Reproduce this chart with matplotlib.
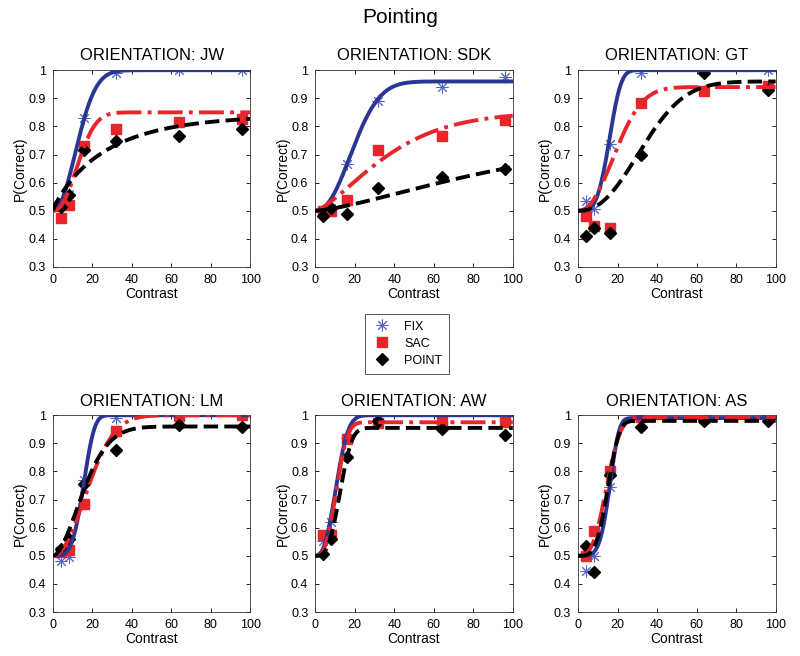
import numpy as np
import matplotlib.pyplot as plt
from matplotlib.lines import Line2D
from matplotlib.ticker import FormatStrFormatter

plt.rcParams['font.family'] = ['Liberation Sans', 'DejaVu Sans']

subjects = ['JW', 'SDK', 'GT', 'LM', 'AW', 'AS']
conditions = ['FIX', 'SAC', 'POINT']

# contrast levels tested
contrast = [4, 8, 16, 32, 64, 96]

fix_data = {
    'JW':  [0.52, 0.56, 0.83, 0.99, 1.00, 1.00],
    'SDK': [0.50, 0.51, 0.665, 0.89, 0.94, 0.975],
    'GT':  [0.535, 0.505, 0.737, 0.99, 1.00, 1.00],
    'LM':  [0.483, 0.495, 0.771, 0.99, 1.00, 1.00],
    'AW':  [0.553, 0.62, 0.92, 1.00, 1.00, 1.00],
    'AS':  [0.445, 0.50, 0.746, 0.99, 1.00, 1.00],
}
sac_data = {
    'JW':  [0.475, 0.52, 0.73, 0.792, 0.815, 0.827],
    'SDK': [0.50, 0.50, 0.54, 0.717, 0.765, 0.824],
    'GT':  [0.48, 0.445, 0.44, 0.885, 0.925, 0.945],
    'LM':  [0.512, 0.521, 0.683, 0.944, 0.996, 1.00],
    'AW':  [0.574, 0.574, 0.917, 0.973, 0.978, 0.975],
    'AS':  [0.50, 0.59, 0.80, 0.993, 0.99, 1.00],
}
point_data = {
    'JW':  [0.515, 0.556, 0.717, 0.747, 0.765, 0.79],
    'SDK': [0.48, 0.51, 0.49, 0.58, 0.62, 0.65],
    'GT':  [0.41, 0.44, 0.42, 0.70, 0.99, 0.93],
    'LM':  [0.525, 0.56, 0.755, 0.877, 0.965, 0.958],
    'AW':  [0.506, 0.559, 0.852, 0.981, 0.95, 0.928],
    'AS':  [0.535, 0.441, 0.788, 0.958, 0.981, 0.981],
}
# extra low-contrast point for JW pointing
jw_extra_x = [2]
jw_extra_y = [0.52]

# fitted Weibull curves: threshold, slope, upper asymptote (guess rate 0.5)
fix_fit = {
    'JW': (15.4, 2.1, 1.0), 'SDK': (23.2, 2.2, 0.96), 'GT': (17.4, 3.8, 1.0),
    'LM': (17.0, 4.0, 1.0), 'AW': (12.3, 2.6, 1.0), 'AS': (17.3, 4.7, 0.99),
}
sac_fit = {
    'JW': (15.5, 2.26, 0.85), 'SDK': (42.0, 1.4, 0.85), 'GT': (23.2, 2.2, 0.94),
    'LM': (21.8, 2.06, 1.0), 'AW': (12.3, 2.85, 0.975), 'AS': (16.4, 3.0, 0.993),
}
point_fit = {
    'JW': (27.0, 0.9, 0.84), 'SDK': (102.0, 1.4, 0.75), 'GT': (38.7, 2.3, 0.96),
    'LM': (19.0, 1.8, 0.96), 'AW': (14.2, 3.1, 0.955), 'AS': (16.6, 3.76, 0.98),
}

blue_line = '#2b3594'
blue_mark = '#5566cc'
red = '#e8252b'
black = 'black'
star = (8, 2, 0)  # asterisk like matlab '*'


def weibull(x, a, b, top):
    return 0.5 + (top - 0.5) * (1 - np.exp(-(x / a) ** b))


fig = plt.figure(figsize=(8, 6.56), dpi=100)
fig.text(0.5, 0.973, 'Pointing', ha='center', va='center', fontsize=15)

lefts = [0.066, 0.394, 0.7225]
bottoms = [0.593, 0.067]
xx = np.linspace(0, 100, 400)

for i, s in enumerate(subjects):
    ax = fig.add_axes([lefts[i % 3], bottoms[i // 3], 0.247, 0.300])

    # data points
    ax.plot(contrast, fix_data[s], ls='none', marker=star, color=blue_mark,
            markersize=8.5, markeredgewidth=0.7, zorder=2)
    ax.plot(contrast, sac_data[s], 's', color=red, markersize=6.5, zorder=2)
    ax.plot(contrast, point_data[s], 'D', color=black, markersize=6.5, zorder=2)
    if s == 'JW':
        ax.plot(jw_extra_x, jw_extra_y, 'D', color=black, markersize=6.5, zorder=2)

    # fitted curves
    ax.plot(xx, weibull(xx, *fix_fit[s]), '-', color=blue_line, lw=2.8, zorder=3)
    ax.plot(xx, weibull(xx, *sac_fit[s]), '-.', color=red, lw=2.8, zorder=3)
    ax.plot(xx, weibull(xx, *point_fit[s]), '--', color=black, lw=2.8, zorder=3)

    ax.set_xlim(0, 100)
    ax.set_ylim(0.3, 1.0)
    ax.set_xticks(np.arange(0, 101, 20))
    ax.set_yticks(np.arange(0.3, 1.01, 0.1))
    ax.yaxis.set_major_formatter(FormatStrFormatter('%g'))
    ax.tick_params(direction='in', top=True, right=True, labelsize=9,
                   length=3, width=0.6, pad=5)
    for sp in ax.spines.values():
        sp.set_linewidth(0.6)
        sp.set_color('#333333')
    ax.set_title('ORIENTATION: ' + s, fontsize=12, pad=7)
    ax.set_xlabel('Contrast', fontsize=10, labelpad=1)
    ax.set_ylabel('P(Correct)', fontsize=10, labelpad=1)

handles = [
    Line2D([], [], ls='none', marker=star, color=blue_mark, markersize=8.5, markeredgewidth=0.7),
    Line2D([], [], ls='none', marker='s', color=red, markersize=6.5),
    Line2D([], [], ls='none', marker='D', color=black, markersize=6.5),
]
leg = fig.legend(handles, conditions, loc='center', bbox_to_anchor=(0.509, 0.476),
                 fontsize=9, fancybox=False, edgecolor='#555555', framealpha=1,
                 handlelength=1.6, handletextpad=1.0, borderpad=0.55, labelspacing=0.4)
leg.get_frame().set_linewidth(0.7)

fig.savefig('out.png', dpi=100)
